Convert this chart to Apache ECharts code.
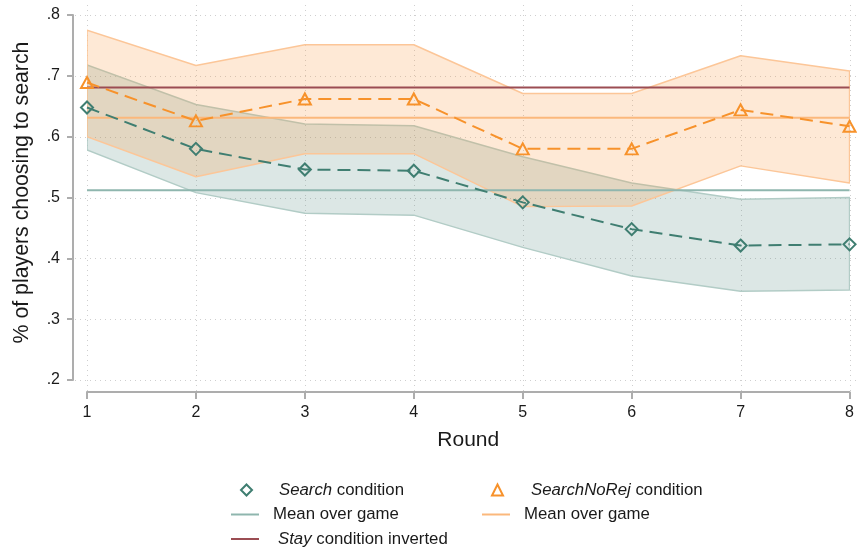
<!DOCTYPE html>
<html>
<head>
<meta charset="utf-8">
<title>Share of players choosing to search by round</title>
<script src="https://cdn.jsdelivr.net/npm/echarts@6/dist/echarts.min.js"></script>
<style>
  html, body { margin: 0; padding: 0; background: #ffffff; }
  #chart { width: 857px; height: 552px; }
</style>
</head>
<body>
<div id="chart"></div>
<script>
// Rounds of the game
const rounds = [1, 2, 3, 4, 5, 6, 7, 8];

// Search condition: share choosing to search, with 95% CI bounds
const searchShare = [0.648, 0.580, 0.546, 0.544, 0.492, 0.448, 0.421, 0.423];
const searchLow   = [0.578, 0.508, 0.474, 0.471, 0.418, 0.371, 0.346, 0.348];
const searchHigh  = [0.718, 0.653, 0.621, 0.618, 0.567, 0.524, 0.497, 0.500];

// SearchNoRej condition: share choosing to search, with 95% CI bounds
const noRejShare = [0.689, 0.626, 0.662, 0.662, 0.580, 0.580, 0.644, 0.617];
const noRejLow   = [0.600, 0.534, 0.572, 0.572, 0.485, 0.486, 0.552, 0.524];
const noRejHigh  = [0.775, 0.717, 0.751, 0.751, 0.671, 0.671, 0.733, 0.708];

// Means over the whole game, and the inverted Stay condition reference
const searchGameMean = 0.512;
const noRejGameMean = 0.631;
const stayInverted = 0.681;

// Y axis ticks
const yTicks = [0.2, 0.3, 0.4, 0.5, 0.6, 0.7, 0.8];

const FONT = '"Liberation Sans", Arial, Helvetica, sans-serif';
const TEXT = '#1a1a1a';
const AXIS = '#adadad';
const GRID = '#cfcfcf';

const GREEN = '#3f7e71';
const GREEN_MEAN = '#8fb6ae';
const GREEN_EDGE = '#b2ccc6';
const GREEN_FILL = 'rgba(70,128,115,0.19)';
const ORANGE = '#f7922b';
const ORANGE_MEAN = '#fbb87c';
const ORANGE_EDGE = '#fcc698';
const ORANGE_FILL = 'rgba(252,150,60,0.21)';
const STAY = '#9b4d53';

const X_OFFSET = 12;
const Y_OFFSET = 14;
const LINE_ICON = 'path://M0,0H28V2H0Z';

const first = 0, last = rounds.length - 1;
const pairs = ys => rounds.map((r, i) => [r, ys[i]]);
const flat = v => [[rounds[first], v], [rounds[last], v]];

// Confidence band drawn as one outlined polygon through the axis scales
function band(name, lo, hi, edge, fill) {
  return {
    type: 'custom', name: name, silent: true, z: 1, clip: true,
    data: rounds.map((r, i) => [r, lo[i], hi[i]]),
    encode: { x: 0, y: [1, 2] },
    renderItem: (params, api) => {
      if (params.dataIndex !== 0) return null;
      const upper = rounds.map((r, i) => api.coord([r, hi[i]]));
      const lower = rounds.map((r, i) => api.coord([r, lo[i]])).reverse();
      return {
        type: 'polygon',
        shape: { points: upper.concat(lower) },
        style: { fill: fill, stroke: edge, lineWidth: 1.5, lineJoin: 'round' }
      };
    }
  };
}

const legendText = {
  'Search condition': '{i|Search} condition',
  'Search mean': 'Mean over game',
  'Stay condition inverted': '{i|Stay} condition inverted',
  'SearchNoRej condition': '{i|SearchNoRej} condition',
  'SearchNoRej mean': 'Mean over game'
};

function legendBlock(left, top, iconWidth, textPad, data) {
  return {
    orient: 'vertical', left: left, top: top, itemWidth: iconWidth, itemHeight: 11, itemGap: 6.5,
    symbolKeepAspect: true, selectedMode: false, padding: 0,
    formatter: name => legendText[name],
    textStyle: {
      fontFamily: FONT, fontSize: 16.8, color: TEXT, lineHeight: 18, padding: [0, 0, 0, textPad],
      rich: { i: { fontFamily: FONT, fontSize: 16.8, color: TEXT, fontStyle: 'italic', lineHeight: 18, padding: [0, 0, 0, 5] } }
    },
    data: data
  };
}

const chart = echarts.init(document.getElementById('chart'), null, { renderer: 'canvas' });

const option = {
  animation: false,
  backgroundColor: '#ffffff',
  grid: { left: 87, right: 6, top: 15, bottom: 172, containLabel: false },
  xAxis: {
    type: 'value', min: rounds[first], max: rounds[last], interval: 1, offset: X_OFFSET,
    name: 'Round', nameLocation: 'middle', nameGap: 38,
    nameTextStyle: { fontFamily: FONT, fontSize: 21, color: TEXT },
    axisLine: { lineStyle: { color: AXIS, width: 2 } },
    axisTick: { length: 7, lineStyle: { color: AXIS, width: 2 } },
    axisLabel: { fontFamily: FONT, fontSize: 16, color: TEXT, margin: 13 },
    splitLine: { show: false }
  },
  yAxis: {
    type: 'value', min: yTicks[0], max: yTicks[yTicks.length - 1], interval: 0.1, offset: Y_OFFSET,
    name: '% of players choosing to search', nameLocation: 'middle', nameGap: 40,
    nameTextStyle: { fontFamily: FONT, fontSize: 21.3, color: TEXT, padding: [0, 0, 0, 10] },
    axisLine: { show: true, lineStyle: { color: AXIS, width: 2 } },
    axisTick: { show: true, length: 6, lineStyle: { color: AXIS, width: 2 } },
    axisLabel: {
      fontFamily: FONT, fontSize: 16, color: TEXT, margin: 13,
      formatter: v => (Math.round(v * 10) / 10).toFixed(1).replace(/^0/, '')
    },
    splitLine: { show: false }
  },
  legend: [
    legendBlock(240, 481, 11, 17, [
      { name: 'Search condition', icon: 'diamond', itemStyle: { color: 'rgba(0,0,0,0)', borderColor: GREEN, borderWidth: 2 } }
    ]),
    legendBlock(231, 505.5, 28, 9, [
      { name: 'Search mean', icon: LINE_ICON, itemStyle: { color: GREEN_MEAN, borderWidth: 0 } },
      { name: 'Stay condition inverted', icon: LINE_ICON, itemStyle: { color: STAY, borderWidth: 0 } }
    ]),
    legendBlock(491, 481, 11, 18, [
      { name: 'SearchNoRej condition', icon: 'triangle', itemStyle: { color: 'rgba(0,0,0,0)', borderColor: ORANGE, borderWidth: 2 } }
    ]),
    legendBlock(482, 505.5, 28, 9, [
      { name: 'SearchNoRej mean', icon: LINE_ICON, itemStyle: { color: ORANGE_MEAN, borderWidth: 0 } }
    ])
  ],
  series: [
    band('Search CI', searchLow, searchHigh, GREEN_EDGE, GREEN_FILL),
    band('SearchNoRej CI', noRejLow, noRejHigh, ORANGE_EDGE, ORANGE_FILL),
    {
      type: 'line', name: 'Search mean', data: flat(searchGameMean), symbol: 'none', z: 3,
      color: GREEN_MEAN, lineStyle: { color: GREEN_MEAN, width: 2 }
    },
    {
      type: 'line', name: 'SearchNoRej mean', data: flat(noRejGameMean), symbol: 'none', z: 3,
      color: ORANGE_MEAN, lineStyle: { color: ORANGE_MEAN, width: 2 }
    },
    {
      type: 'line', name: 'Stay condition inverted', data: flat(stayInverted), symbol: 'none', z: 3,
      color: STAY, lineStyle: { color: STAY, width: 2 }
    },
    {
      type: 'line', name: 'Search condition', data: pairs(searchShare), z: 4,
      symbol: 'diamond', symbolSize: [12, 12],
      itemStyle: { color: 'rgba(0,0,0,0)', borderColor: GREEN, borderWidth: 2 },
      lineStyle: { color: GREEN, width: 2, type: [13, 7] }
    },
    {
      type: 'line', name: 'SearchNoRej condition', data: pairs(noRejShare), z: 4,
      symbol: 'triangle', symbolSize: [12, 11],
      itemStyle: { color: 'rgba(0,0,0,0)', borderColor: ORANGE, borderWidth: 2 },
      lineStyle: { color: ORANGE, width: 2, type: [13, 7] }
    }
  ]
};

chart.setOption(option);

// Dotted grid lines that run slightly past the plot region, out to the axis lines
const toPx = (x, y) => chart.convertToPixel({ gridIndex: 0 }, [x, y]);
const yMin = yTicks[0], yMax = yTicks[yTicks.length - 1];
const axisBottom = toPx(rounds[first], yMin)[1] + X_OFFSET;
const axisLeft = toPx(rounds[first], yMin)[0] - Y_OFFSET;
const gridTop = toPx(rounds[first], yMax)[1] - 10;
const gridRight = chart.getWidth();
const gridStyle = { stroke: GRID, lineWidth: 1, lineDash: [1, 4] };
const gridLines = [];
rounds.forEach(r => {
  const x = Math.round(toPx(r, yMin)[0]) + 0.5;
  gridLines.push({ type: 'line', z: 0, silent: true, shape: { x1: x, y1: gridTop, x2: x, y2: axisBottom - 1 }, style: gridStyle });
});
yTicks.forEach(t => {
  const y = Math.round(toPx(rounds[first], t)[1]) + 0.5;
  gridLines.push({ type: 'line', z: 0, silent: true, shape: { x1: axisLeft + 2, y1: y, x2: gridRight, y2: y }, style: gridStyle });
});
chart.setOption({ graphic: { elements: gridLines } });
</script>
</body>
</html>
